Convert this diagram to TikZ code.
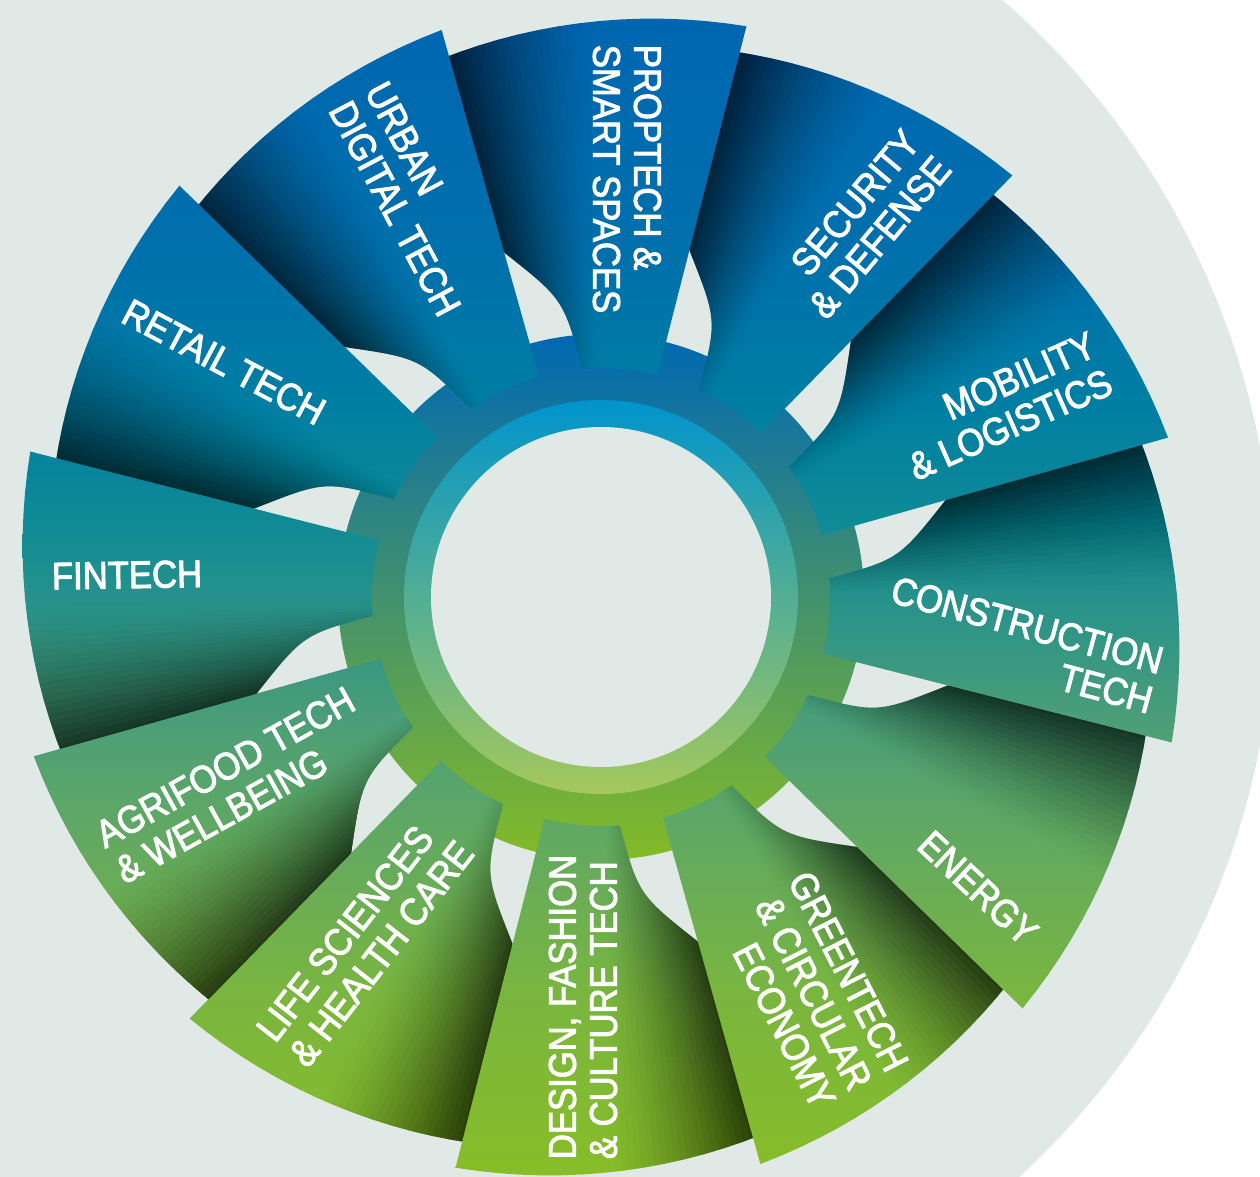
\documentclass[tikz,border=0pt]{standalone}
\usepackage{fontspec}
\setmainfont{Liberation Sans}[FakeStretch=0.9, FakeBold=2.5]

\definecolor{bggrey}{RGB}{225,233,231}
\definecolor{ringtop}{RGB}{0,104,178}
\definecolor{ringmid}{RGB}{20,138,146}
\definecolor{ringbot}{RGB}{132,187,40}
\definecolor{hubtop}{RGB}{0,148,204}
\definecolor{hubmid}{RGB}{102,173,155}
\definecolor{hubbot}{RGB}{165,200,92}
\definecolor{bla}{RGB}{0,101,177}
\definecolor{blb}{RGB}{0,112,172}
\definecolor{blc}{RGB}{0,126,163}
\definecolor{bld}{RGB}{14,138,150}
\definecolor{ble}{RGB}{45,148,136}
\definecolor{blf}{RGB}{75,158,120}
\definecolor{blg}{RGB}{100,170,95}
\definecolor{blh}{RGB}{122,182,62}
\definecolor{bli}{RGB}{136,189,40}

\pgfdeclareverticalshading{bladeshade}{100bp}{color(0bp)=(bli); color(25bp)=(bli);
  color(32.5bp)=(blh); color(38.9bp)=(blg); color(44.4bp)=(blf); color(48.6bp)=(ble);
  color(52.9bp)=(bld); color(58bp)=(blc); color(64.4bp)=(blb); color(75bp)=(bla); color(100bp)=(bla)}

\newcommand\bladepath[2]{%
  ({#1}:229) arc[start angle={#1}, end angle={#1+19}, radius=229]
  .. controls ({#1+21.5}:300) .. ({#1+30}:358)
  -- ({#1+30+#2}:372)
  -- plot[domain={#1+30+#2}:{#1}, samples=16, variable=\x] ({\x}:{589-0.9*(\x-(#1))})
  -- cycle}

\newcommand\blade[2]{%
  \begin{scope}
    \clip \bladepath{#1}{#2};
    \shade[shading=bladeshade] (-601,-579) rectangle (659,597);
    \foreach \i in {1,...,24}{
      \pgfmathsetmacro\op{1-(1-0.66*(\i/24)*sqrt(\i/24))/(1-0.66*((\i-1)/24)*sqrt((\i-1)/24))}
      \fill[black, fill opacity=\op] (0,0) -- ({#1+15+(\i-1)*16/24}:720) -- ({#1+33}:720) -- cycle;
    }
  \end{scope}}

\begin{document}
\begin{tikzpicture}[x=1pt, y=1pt,
    lbl/.style={text=white, font=\fontsize{38.5}{41}\selectfont, inner sep=0pt}]
  \useasboundingbox (-601,-579) rectangle (659,597);
  \fill[white] (-601,-579) rectangle (659,597);
  \fill[bggrey] (-117,1) circle[radius=790];

  \shade[top color=ringtop, middle color=ringmid, bottom color=ringbot] (0,0) circle[radius=263];

  \foreach \k in {11,10,...,0}{
    \pgfmathsetmacro\a{165.7-30*\k}
    \blade{\a}{1}
  }
  \blade{-164.3}{0}

  \shade[top color=hubtop, middle color=hubmid, bottom color=hubbot] (0,0) circle[radius=197];
  \fill[bggrey] (0,0) circle[radius=170];

  \node[lbl, rotate=1] (fintech) at (-474,22) {FINTECH};
  \node[lbl, rotate=-28] (retail) at (-377,235) {RETAIL TECH};
  \node[lbl, rotate=-62, align=left] (urban) at (-188,398) {URBAN\\DIGITAL TECH};
  \node[lbl, rotate=-90, align=left] (proptech) at (26,418) {PROPTECH \&\\SMART SPACES};
  \node[lbl, rotate=50, align=right] (security) at (263,373) {SECURITY\\\& DEFENSE};
  \node[lbl, rotate=24, align=right] (mobility) at (401,191) {MOBILITY\\\& LOGISTICS};
  \node[lbl, rotate=-15, align=right] (construction) at (421,-48) {CONSTRUCTION\\TECH};
  \node[lbl, rotate=-43] (energy) at (377,-291) {ENERGY};
  \node[lbl, rotate=-63, align=right] (greentech) at (211,-393) {GREENTECH\\\& CIRCULAR\\ECONOMY};
  \node[lbl, rotate=90, align=left] (design) at (-18,-410) {DESIGN, FASHION\\\& CULTURE TECH};
  \node[lbl, rotate=52, align=left] (life) at (-236,-344) {LIFE SCIENCES\\\& HEALTH CARE};
  \node[lbl, rotate=29, align=left] (agrifood) at (-366,-188) {AGRIFOOD TECH\\\& WELLBEING};
\end{tikzpicture}
\end{document}
